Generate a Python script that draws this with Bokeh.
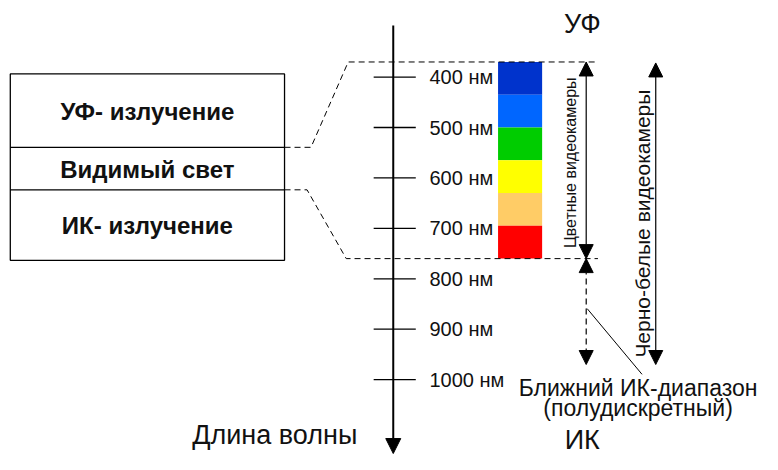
import math
from bokeh.plotting import figure
from bokeh.models import Range1d, Arrow, NormalHead
from bokeh.core.properties import value
from bokeh.embed import file_html
from bokeh.resources import INLINE

# ---- data ----
tick_nm = [400, 500, 600, 700, 800, 900, 1000]
tick_labels = ["400 нм", "500 нм", "600 нм", "700 нм", "800 нм", "900 нм", "1000 нм"]
band_start_nm = [370, 435, 500, 565, 630, 695]
band_end_nm = [435, 500, 565, 630, 695, 760]
band_colors = ["#0033cc", "#0066ff", "#00cc00", "#ffff00", "#ffcc66", "#ff0000"]
box_labels = ["УФ- излучение", "Видимый свет", "ИК- излучение"]
visible_range_nm = [370, 760]      # colour cameras / visible light
bw_range_nm = [370, 970]           # black & white cameras
nir_range_nm = [760, 970]          # near IR range

FONT = "Liberation Sans"

def wy(nm):
    # wavelength -> vertical position on the diagram
    return 79.3 + (nm - 400) * 0.522

p = figure(width=762, height=454, output_backend="svg", toolbar_location=None,
           x_range=Range1d(0, 778), y_range=Range1d(470, 0), min_border=0)
p.axis.visible = False
p.grid.visible = False
p.outline_line_color = None
p.background_fill_color = "white"
p.border_fill_color = "white"

# main wavelength axis
p.add_layout(Arrow(x_start=401, y_start=26, x_end=401, y_end=469, line_width=2,
                   end=NormalHead(size=15, fill_color="black", line_color="black"), start=None))

# ticks and labels
ty = [wy(v) for v in tick_nm]
p.segment(x0=[381] * len(ty), y0=ty, x1=[424] * len(ty), y1=ty, line_color="black", line_width=1.3)
p.text(x=[438] * len(ty), y=ty, text=tick_labels, text_font=value(FONT), text_font_size="20px",
       text_align="left", text_baseline="middle", text_color="#111111")

# colour bands
p.quad(left=508, right=553, top=[wy(v) for v in band_start_nm],
       bottom=[wy(v) for v in band_end_nm], fill_color=band_colors, line_color=None)

# left box
p.quad(left=[10], right=[290], top=[76], bottom=[269], fill_color=None, line_color="black", line_width=1.3)
p.segment(x0=[10, 10], y0=[152, 196], x1=[290, 290], y1=[152, 196], line_color="black", line_width=1.3)
p.text(x=[150, 150, 150], y=[115, 175, 233], text=box_labels, text_font=value(FONT),
       text_font_size="24px", text_font_style="bold", text_align="center", text_baseline="middle",
       text_color="#111111")

# dashed zoom connectors
vt, vb = wy(visible_range_nm[0]), wy(visible_range_nm[1])
p.line(x=[290, 317, 355, 610], y=[152, 152, vt, vt], line_dash="6 4", line_color="black", line_width=1)
p.line(x=[290, 313, 353, 610], y=[196, 196, vb, vb], line_dash="6 4", line_color="black", line_width=1)

# colour cameras arrow
head = lambda: NormalHead(size=14, fill_color="black", line_color="black")
p.add_layout(Arrow(x_start=598, y_start=vt, x_end=598, y_end=vb, line_width=1.2,
                   start=head(), end=head()))
p.text(x=[582], y=[168], text=["Цветные видеокамеры"], angle=math.pi / 2,
       text_font=value(FONT), text_font_size="16px", text_align="center", text_baseline="middle",
       text_color="#111111")

# black & white cameras arrow
p.add_layout(Arrow(x_start=669, y_start=wy(bw_range_nm[0]) + 1, x_end=669, y_end=wy(bw_range_nm[1]),
                   line_width=1.2, start=head(), end=head()))
p.text(x=[655], y=[231], text=["Черно-белые видеокамеры"], angle=math.pi / 2,
       text_font=value(FONT), text_font_size="21px", text_align="center", text_baseline="middle",
       text_color="#111111")

# near IR dashed arrow
p.add_layout(Arrow(x_start=598, y_start=wy(nir_range_nm[1]), x_end=598, y_end=vb, line_width=1.2,
                   line_dash="6 4", start=head(), end=head()))
p.segment(x0=[599], y0=[319], x1=[655], y1=[387], line_color="black", line_width=1)
p.text(x=[651, 651], y=[401, 422], text=["Ближний ИК-диапазон", "(полудискретный)"],
       text_font=value(FONT), text_font_size="23px", text_align="center", text_baseline="middle",
       text_color="#111111")

# end labels
p.text(x=[594, 594, 280], y=[24, 455, 450], text=["УФ", "ИК", "Длина волны"],
       text_font=value(FONT), text_font_size="27px", text_align="center", text_baseline="middle",
       text_color="#111111")

open("out.html", "w").write(file_html(p, INLINE))
